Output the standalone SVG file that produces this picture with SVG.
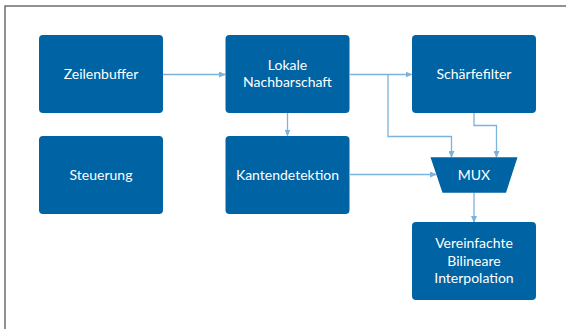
<svg xmlns="http://www.w3.org/2000/svg" width="566" height="329" viewBox="0 0 566 329">
<defs>
<style>
.n{fill:#0063a3;}
.t{fill:#ffffff;font-family:Lato,"Open Sans",sans-serif;font-size:14px;text-anchor:middle;}
.c{fill:none;stroke:#7db3da;stroke-width:1.3;}
</style>
<marker id="a" markerWidth="7" markerHeight="6" refX="6" refY="3" orient="auto" markerUnits="userSpaceOnUse">
<path d="M0,0 L7,3 L0,6 Z" fill="#7db3da"/>
</marker>
</defs>
<rect width="566" height="329" fill="#ffffff"/>
<path d="M5,329 V6 H566" fill="none" stroke="#6e6e6e" stroke-width="1.5"/>
<g id="connectors">
<path class="c" d="M163,74.5 H225" marker-end="url(#a)"/>
<path class="c" d="M350,74.5 H411.5" marker-end="url(#a)"/>
<path class="c" d="M388,74.5 V136.5 H451.5 V157" marker-end="url(#a)"/>
<path class="c" d="M474,113 V125.5 H496.5 V157" marker-end="url(#a)"/>
<path class="c" d="M287.5,113 V135.5" marker-end="url(#a)"/>
<path class="c" d="M350,174.5 H436" marker-end="url(#a)"/>
<path class="c" d="M474,192.5 V222" marker-end="url(#a)"/>
</g>
<g id="zeilenbuffer"><rect class="n" x="39" y="35" width="124" height="78" rx="4"/><text class="t" x="101" y="79">Zeilenbuffer</text></g>
<g id="lokale"><rect class="n" x="225.5" y="35" width="124" height="78" rx="4"/><text class="t" x="287.5" y="70">Lokale</text><text class="t" x="287.5" y="87">Nachbarschaft</text></g>
<g id="schaerfefilter"><rect class="n" x="412" y="35" width="124" height="78" rx="4"/><text class="t" x="474" y="79">Schärfefilter</text></g>
<g id="steuerung"><rect class="n" x="39" y="136" width="124" height="78" rx="4"/><text class="t" x="101" y="180">Steuerung</text></g>
<g id="kantendetektion"><rect class="n" x="225.5" y="136" width="124" height="78" rx="4"/><text class="t" x="287.5" y="180">Kantendetektion</text></g>
<g id="mux"><path class="n" d="M430.5,157.3 H517.5 L506,192.7 H442.5 Z"/><text class="t" x="474" y="180">MUX</text></g>
<g id="interpolation"><rect class="n" x="412" y="222" width="124" height="78" rx="4"/><text class="t" x="474" y="248">Vereinfachte</text><text class="t" x="474" y="265.5">Bilineare</text><text class="t" x="474" y="283">Interpolation</text></g>
</svg>
